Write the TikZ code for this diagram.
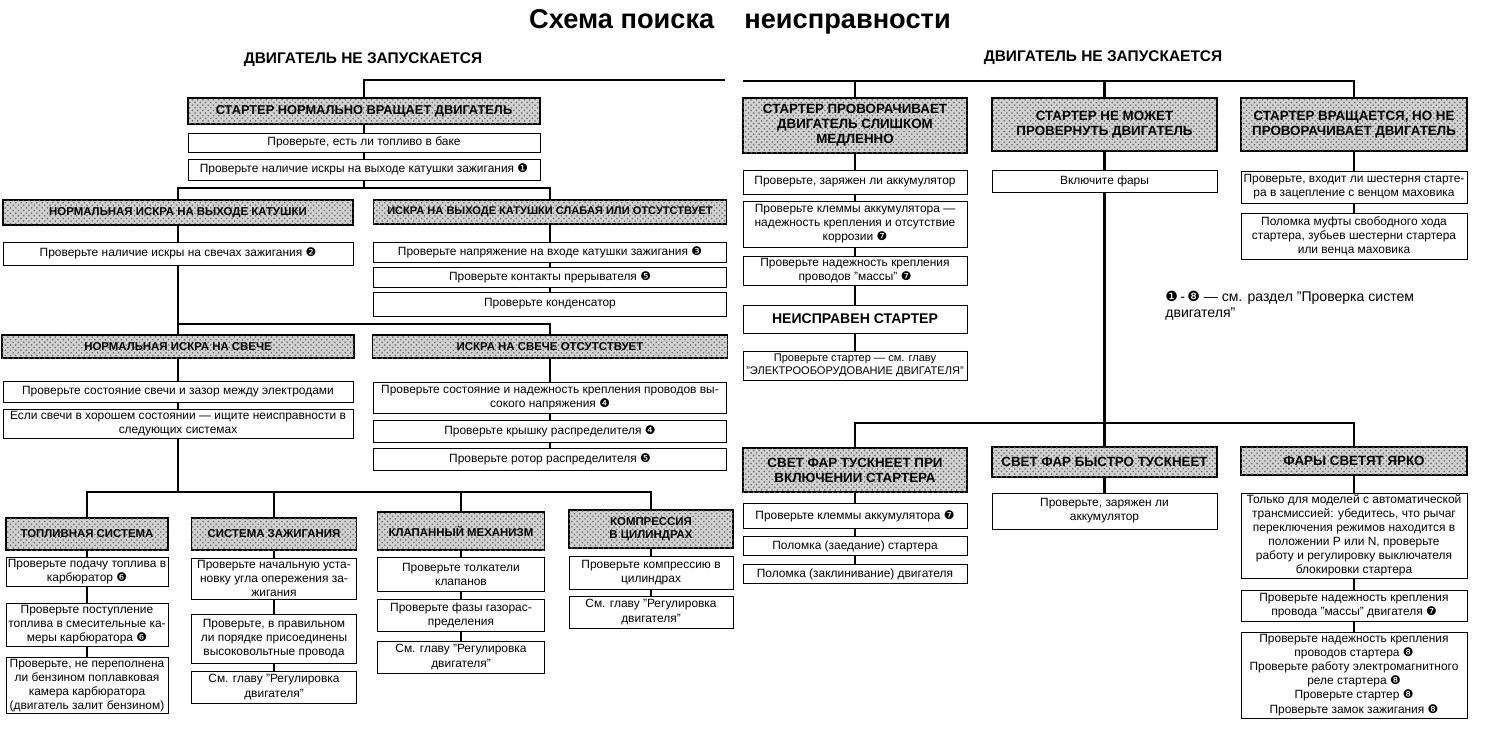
\documentclass[tikz,border=0pt]{standalone}
\usepackage{fontspec}
\setmainfont{Liberation Sans}
\newfontfamily\dv{DejaVu Sans}
\newcommand\cn[1]{{\dv #1}}
\newcommand\q{\char34\relax}
\usetikzlibrary{patterns}

\begin{document}
\begin{tikzpicture}[x=0.02cm, y=-0.02cm,
  head/.style={draw, line width=0.8pt, fill=black!18, align=center, inner sep=1pt,
    postaction={pattern=crosshatch dots, pattern color=black!60},
    font=\bfseries\fontsize{6.5}{7.6}\selectfont},
  headR/.style={head, font=\bfseries\fontsize{7.6}{8.6}\selectfont},
  chk/.style={draw, line width=0.5pt, fill=white, align=center, inner sep=1pt,
    font=\fontsize{6.8}{8}\selectfont},
  wire/.style={line width=1.5pt},
  wh/.style 2 args={minimum width=#1*0.02cm, minimum height=#2*0.02cm}]
  \useasboundingbox (0,0) rectangle (1500,735);

  % Titles
  \node[font=\bfseries\fontsize{15.5}{18}\selectfont] (title) at (740,22) {Схема поиска\hspace{1.1em}неисправности};
  \node[font=\bfseries\fontsize{8.8}{10}\selectfont] (subL) at (363,60) {ДВИГАТЕЛЬ НЕ ЗАПУСКАЕТСЯ};
  \node[font=\bfseries\fontsize{8.8}{10}\selectfont] (subR) at (1103,58) {ДВИГАТЕЛЬ НЕ ЗАПУСКАЕТСЯ};

  % Left half: starter turns the engine normally
  \node[head, wh={352}{26}, font=\bfseries\fontsize{7.3}{8.4}\selectfont] (norm) at (364,111) {СТАРТЕР НОРМАЛЬНО ВРАЩАЕТ ДВИГАТЕЛЬ};
  \node[chk, wh={352}{19}] (tank) at (364,142.5) {Проверьте, есть ли топливо в баке};
  \node[chk, wh={352}{21}] (coil) at (364,169.5) {Проверьте наличие искры на выходе катушки зажигания \cn{❶}};
  \coordinate (bus1) at (364,188);

  \node[head, wh={350}{25}] (okcoil) at (178,212.5) {НОРМАЛЬНАЯ ИСКРА НА ВЫХОДЕ КАТУШКИ};
  \node[chk, wh={350}{23}] (plugs) at (178,253.5) {Проверьте наличие искры на свечах зажигания \cn{❷}};
  \node[head, wh={353}{24}, font=\bfseries\fontsize{6.3}{7.4}\selectfont] (badcoil) at (550,212) {ИСКРА НА ВЫХОДЕ КАТУШКИ СЛАБАЯ ИЛИ ОТСУТСТВУЕТ};
  \node[chk, wh={353}{20}] (volt) at (550,252) {Проверьте напряжение на входе катушки зажигания \cn{❸}};
  \node[chk, wh={353}{20}] (brk) at (550,277) {Проверьте контакты прерывателя \cn{❺}};
  \node[chk, wh={353}{24}] (cond) at (550,304) {Проверьте конденсатор};
  \coordinate (bus2) at (178,324);

  \node[head, wh={352}{23}] (okspark) at (178,346.5) {НОРМАЛЬНАЯ ИСКРА НА СВЕЧЕ};
  \node[chk, wh={350}{21}] (sgap) at (178,391.5) {Проверьте состояние свечи и зазор между электродами};
  \node[chk, wh={350}{26}] (ifok) at (178,424) {Если свечи в хорошем состоянии — ищите неисправности в\\следующих системах};
  \node[head, wh={355}{23}] (nospark) at (550,346.5) {ИСКРА НА СВЕЧЕ ОТСУТСТВУЕТ};
  \node[chk, wh={353}{31}] (hiv) at (550,397.5) {Проверьте состояние и надежность крепления проводов вы-\\сокого напряжения \cn{❹}};
  \node[chk, wh={353}{22}] (dcap) at (550,431) {Проверьте крышку распределителя \cn{❹}};
  \node[chk, wh={353}{22}] (rotor) at (550,459) {Проверьте ротор распределителя \cn{❺}};
  \coordinate (bus3) at (178,492);

  % Systems to check
  \node[head, wh={162}{32}] (fuelsys) at (87,534) {ТОПЛИВНАЯ СИСТЕМА};
  \node[chk, wh={162}{28}] (feed) at (87,572) {Проверьте подачу топлива в\\карбюратор \cn{❻}};
  \node[chk, wh={162}{42}] (jets) at (87,625) {Проверьте поступление\\топлива в смесительные ка-\\меры карбюратора \cn{❻}};
  \node[chk, wh={162}{55}] (flood) at (87,685.5) {Проверьте, не переполнена\\ли бензином поплавковая\\камера карбюратора\\(двигатель залит бензином)};

  \node[head, wh={165}{32}] (ignsys) at (274,534) {СИСТЕМА ЗАЖИГАНИЯ};
  \node[chk, wh={165}{41}] (timing) at (274,578.5) {Проверьте начальную уста-\\новку угла опережения за-\\жигания};
  \node[chk, wh={165}{49}] (order) at (274,638.5) {Проверьте, в правильном\\ли порядке присоединены\\высоковольтные провода};
  \node[chk, wh={165}{32}] (adjI) at (274,687) {См. главу \q Регулировка\\двигателя\q};

  \node[head, wh={167}{38}] (valve) at (461,531) {КЛАПАННЫЙ МЕХАНИЗМ};
  \node[chk, wh={167}{34}] (tappets) at (461,574) {Проверьте толкатели\\клапанов};
  \node[chk, wh={167}{32}] (phases) at (461,615) {Проверьте фазы газорас-\\пределения};
  \node[chk, wh={167}{32}] (adjV) at (461,657) {См. главу \q Регулировка\\двигателя\q};

  \node[head, wh={164}{38}] (comp) at (651,529) {КОМПРЕССИЯ\\В ЦИЛИНДРАХ};
  \node[chk, wh={164}{33}] (compchk) at (651,572.5) {Проверьте компрессию в\\цилиндрах};
  \node[chk, wh={164}{32}] (adjC) at (651,612) {См. главу \q Регулировка\\двигателя\q};

  % Right half: starter problems
  \node[headR, wh={224}{55}] (slow) at (855,125.5) {СТАРТЕР ПРОВОРАЧИВАЕТ\\ДВИГАТЕЛЬ СЛИШКОМ\\МЕДЛЕННО};
  \node[chk, wh={224}{24}] (batt) at (855,182) {Проверьте, заряжен ли аккумулятор};
  \node[chk, wh={224}{46}] (clamps) at (855,224) {Проверьте клеммы аккумулятора —\\надежность крепления и отсутствие\\коррозии \cn{❼}};
  \node[chk, wh={224}{29}] (ground) at (855,270.5) {Проверьте надежность крепления\\проводов \q массы\q\ \cn{❼}};
  \node[chk, wh={224}{28}, font=\bfseries\fontsize{8}{9}\selectfont] (faulty) at (855,319) {НЕИСПРАВЕН СТАРТЕР};
  \node[chk, wh={224}{29}, font=\fontsize{6.3}{7.6}\selectfont] (starter) at (855,365.5) {Проверьте стартер — см. главу\\\q ЭЛЕКТРООБОРУДОВАНИЕ ДВИГАТЕЛЯ\q};

  \node[headR, wh={225}{53}] (cant) at (1104.5,124.5) {СТАРТЕР НЕ МОЖЕТ\\ПРОВЕРНУТЬ ДВИГАТЕЛЬ};
  \node[chk, wh={225}{22}] (lights) at (1104.5,181) {Включите фары};

  \node[headR, wh={226}{53}] (spin) at (1354,124.5) {СТАРТЕР ВРАЩАЕТСЯ, НО НЕ\\ПРОВОРАЧИВАЕТ ДВИГАТЕЛЬ};
  \node[chk, wh={226}{32}] (pinion) at (1354,187) {Проверьте, входит ли шестерня старте-\\ра в зацепление с венцом маховика};
  \node[chk, wh={226}{46}] (clutch) at (1354,236) {Поломка муфты свободного хода\\стартера, зубьев шестерни стартера\\или венца маховика};

  \node[anchor=north west, align=left, inner sep=0pt, font=\fontsize{8}{9}\selectfont] (note) at (1165,291) {\cn{❶}\,-\,\cn{❽} — см. раздел \q Проверка систем\\двигателя\q};
  \coordinate (bus4) at (1104.5,423);

  % Headlights test
  \node[headR, wh={224}{44}] (dim) at (855,470) {СВЕТ ФАР ТУСКНЕЕТ ПРИ\\ВКЛЮЧЕНИИ СТАРТЕРА};
  \node[chk, wh={224}{25}] (term) at (855,516) {Проверьте клеммы аккумулятора \cn{❼}};
  \node[chk, wh={224}{19}] (stick) at (855,546) {Поломка (заедание) стартера};
  \node[chk, wh={224}{19}] (seize) at (855,574) {Поломка (заклинивание) двигателя};

  \node[headR, wh={225}{30}] (fast) at (1104.5,462) {СВЕТ ФАР БЫСТРО ТУСКНЕЕТ};
  \node[chk, wh={225}{36}] (chgd) at (1104.5,511) {Проверьте, заряжен ли\\аккумулятор};

  \node[headR, wh={226}{28}] (bright) at (1354,461) {ФАРЫ СВЕТЯТ ЯРКО};
  \node[chk, wh={226}{85}] (auto) at (1354,535.5) {Только для моделей с автоматической\\трансмиссией: убедитесь, что рычаг\\переключения режимов находится в\\положении P или N, проверьте\\работу и регулировку выключателя\\блокировки стартера};
  \node[chk, wh={226}{31}] (gnd2) at (1354,605.5) {Проверьте надежность крепления\\провода \q массы\q\ двигателя \cn{❼}};
  \node[chk, wh={226}{86}] (final) at (1354,675) {Проверьте надежность крепления\\проводов стартера \cn{❽}\\Проверьте работу электромагнитного\\реле стартера \cn{❽}\\Проверьте стартер \cn{❽}\\Проверьте замок зажигания \cn{❽}};

  % Connectors, left
  \coordinate (topL) at (364,80);
  \coordinate (endL) at (725,80);
  \draw[wire] (endL) -- (topL) -- (norm.north);
  \draw[wire] (norm) -- (tank) -- (coil) -- (bus1);
  \draw[wire] (okcoil.north) |- (bus1) -| (badcoil.north);
  \draw[wire] (okcoil) -- (plugs) -- (okspark);
  \draw[wire] (badcoil) -- (volt) -- (brk) -- (cond);
  \draw[wire] (bus2) -| (nospark.north);
  \draw[wire] (okspark) -- (sgap) -- (ifok) -- (bus3);
  \draw[wire] (nospark) -- (hiv) -- (dcap) -- (rotor);
  \draw[wire] (fuelsys.north) |- (bus3) -| (comp.north);
  \draw[wire] (ignsys.north) -- (ignsys.north |- bus3);
  \draw[wire] (valve.north) -- (valve.north |- bus3);
  \draw[wire] (fuelsys) -- (feed) -- (jets) -- (flood);
  \draw[wire] (ignsys) -- (timing) -- (order) -- (adjI);
  \draw[wire] (valve) -- (tappets) -- (phases) -- (adjV);
  \draw[wire] (comp) -- (compchk) -- (adjC);

  % Connectors, right
  \coordinate (topR) at (743,81);
  \draw[wire] (topR) -| (spin.north);
  \draw[wire] (slow.north) -- (slow.north |- topR);
  \draw[wire] (cant.north) -- (cant.north |- topR);
  \draw[wire] (slow) -- (batt) -- (clamps) -- (ground) -- (faulty) -- (starter);
  \draw[wire] (cant) -- (lights) -- (fast);
  \draw[wire] (spin) -- (pinion) -- (clutch);
  \draw[wire] (dim.north) |- (bus4) -| (bright.north);
  \draw[wire] (dim) -- (term) -- (stick) -- (seize);
  \draw[wire] (fast) -- (chgd);
  \draw[wire] (bright) -- (auto) -- (gnd2) -- (final);
\end{tikzpicture}
\end{document}
